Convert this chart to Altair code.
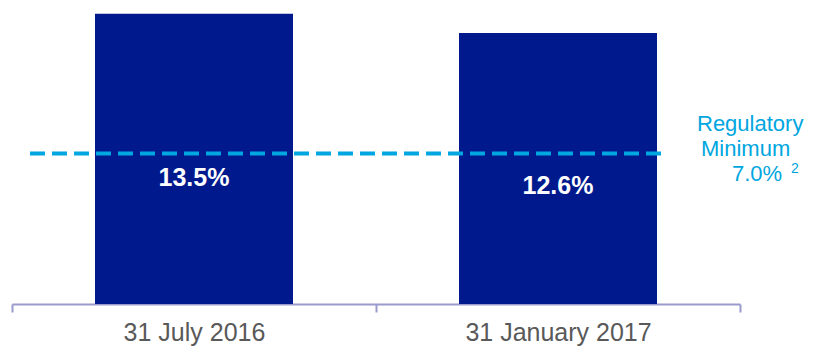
import altair as alt
import pandas as pd

# Capital ratio at each reporting date
periods = ["31 July 2016", "31 January 2017"]
ratios = [13.5, 12.6]

# Regulatory minimum and its footnote marker
reg_min = 7.0
reg_note = "2"

BAR_BLUE = "#001A8E"
LINE_BLUE = "#00A6E0"
AXIS_GREY = "#9A9ACC"
LABEL_GREY = "#595959"
FONT = "Liberation Sans"

df = pd.DataFrame({"period": periods, "ratio": ratios})
y_scale = alt.Scale(domain=[0, 14], nice=False)

base = alt.Chart(df)

bars = base.mark_bar(color=BAR_BLUE, size=198).encode(
    x=alt.X(
        "period:N",
        sort=periods,
        scale=alt.Scale(paddingInner=0, paddingOuter=0),
        axis=alt.Axis(
            title=None,
            labelAngle=0,
            tickBand="extent",
            domainColor=AXIS_GREY,
            tickColor=AXIS_GREY,
            domainWidth=2,
            tickWidth=2,
            tickSize=8,
            labelFont=FONT,
            labelFontSize=25,
            labelColor=LABEL_GREY,
            labelPadding=8,
            labelLimit=400,
        ),
    ),
    y=alt.Y("ratio:Q", scale=y_scale, axis=None),
)

# Value labels sit in the lower half of each bar
labels = base.transform_calculate(
    label="format(datum.ratio, '.1f') + '%'",
    ypos="datum.ratio * 0.435",
).mark_text(
    color="white", font=FONT, fontWeight="bold", fontSize=25, baseline="middle"
).encode(
    x=alt.X("period:N", sort=periods),
    y=alt.Y("ypos:Q", scale=y_scale),
    text="label:N",
)

# Dashed regulatory-minimum line
reg_df = pd.DataFrame({"v": [reg_min]})
reg_line = alt.Chart(reg_df).mark_rule(
    color=LINE_BLUE, strokeWidth=4, strokeDash=[15, 7]
).encode(
    y=alt.Y("v:Q", scale=y_scale),
    x=alt.value(18),
    x2=alt.value(651),
)

def note(text, x, y, size=22):
    return alt.Chart(reg_df).mark_text(
        text=text, color=LINE_BLUE, font=FONT, fontSize=size,
        align="left", baseline="alphabetic",
    ).encode(x=alt.value(x), y=alt.value(y))

notes = (
    note("Regulatory", 685, 128)
    + note("Minimum", 689, 153)
    + note(f"{reg_min:.1f}%", 720, 178)
    + note(reg_note, 779, 170, size=14)
)

chart = (
    alt.layer(bars, reg_line, labels, notes)
    .properties(
        width=728,
        height=301,
        autosize=alt.AutoSizeParams(type="none"),
        padding={"left": 12, "top": 3, "right": 73, "bottom": 43},
        background="white",
    )
    .configure_view(stroke=None)
)

chart.save("out.html", embed_options={"renderer": "svg", "actions": False})
